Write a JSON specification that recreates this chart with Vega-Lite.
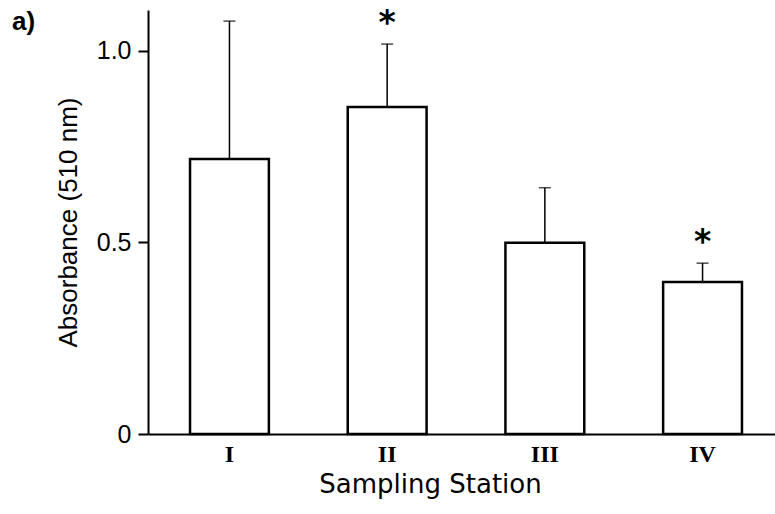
{
  "$schema": "https://vega.github.io/schema/vega-lite/v6.json",
  "width": 627,
  "height": 424,
  "autosize": {"type": "none"},
  "padding": {"left": 148, "top": 10, "right": 0, "bottom": 80},
  "background": "white",
  "title": {"text": "a)", "anchor": "start", "frame": "group", "dx": -136, "dy": 48, "offset": 0, "baseline": "alphabetic", "fontSize": 26, "fontWeight": "bold", "font": "Liberation Sans", "color": "black"},
  "config": {
    "view": {"stroke": null},
    "axisY": {
      "tickSize": 10, "tickWidth": 2, "tickColor": "black",
      "domainWidth": 2, "domainColor": "black", "grid": false,
      "labelFont": "Liberation Sans", "labelFontSize": 25, "labelPadding": 7,
      "labelColor": "black", "labelFlush": false,
      "titleFont": "Liberation Sans", "titleFontSize": 26, "titleFontWeight": "normal",
      "titleColor": "black", "titlePadding": 15
    }
  },
  "data": {"values": [
    {"station": "I", "value": 0.718, "upper": 1.078, "sig": ""},
    {"station": "II", "value": 0.854, "upper": 1.018, "sig": "*"},
    {"station": "III", "value": 0.499, "upper": 0.643, "sig": ""},
    {"station": "IV", "value": 0.397, "upper": 0.446, "sig": "*"}
  ]},
  "encoding": {
    "x": {
      "field": "station", "type": "nominal", "sort": ["I", "II", "III", "IV"],
      "scale": {"paddingInner": 0.5, "paddingOuter": 0.238, "align": 0.56},
      "axis": {
        "title": "Sampling Station", "labelAngle": 0, "ticks": false, "tickSize": 0,
        "labelPadding": 8, "labelFont": "Liberation Serif", "labelFontSize": 24,
        "labelFontWeight": "bold", "labelColor": "black",
        "titleFont": "DejaVu Sans", "titleFontSize": 26, "titleFontWeight": "normal",
        "titleColor": "black", "titlePadding": 5, "titleX": 282,
        "domainWidth": 2, "domainColor": "black"
      }
    }
  },
  "layer": [
    {
      "mark": {"type": "bar", "fill": "white", "stroke": "black", "strokeWidth": 2.5},
      "encoding": {
        "y": {
          "field": "value", "type": "quantitative", "title": "Absorbance (510 nm)",
          "scale": {"domain": [0, 1.107], "nice": false},
          "axis": {"values": [0, 0.5, 1], "labelExpr": "datum.value == 0 ? '0' : format(datum.value, '.1f')"}
        }
      }
    },
    {
      "mark": {"type": "rule", "color": "black", "strokeWidth": 1.5},
      "encoding": {
        "y": {"field": "value", "type": "quantitative", "title": "Absorbance (510 nm)",
          "axis": {"values": [0, 0.5, 1], "labelExpr": "datum.value == 0 ? '0' : format(datum.value, '.1f')"}},
        "y2": {"field": "upper"}
      }
    },
    {
      "mark": {"type": "tick", "color": "black", "size": 12, "thickness": 1.5},
      "encoding": {
        "y": {"field": "upper", "type": "quantitative", "title": "Absorbance (510 nm)",
          "axis": {"values": [0, 0.5, 1], "labelExpr": "datum.value == 0 ? '0' : format(datum.value, '.1f')"}}
      }
    },
    {
      "transform": [{"filter": "datum.sig != ''"}],
      "mark": {"type": "text", "font": "DejaVu Sans", "fontSize": 33, "fontWeight": "bold", "baseline": "middle", "dy": -20, "color": "black"},
      "encoding": {
        "y": {"field": "upper", "type": "quantitative", "title": "Absorbance (510 nm)",
          "axis": {"values": [0, 0.5, 1], "labelExpr": "datum.value == 0 ? '0' : format(datum.value, '.1f')"}},
        "text": {"field": "sig"}
      }
    }
  ]
}
